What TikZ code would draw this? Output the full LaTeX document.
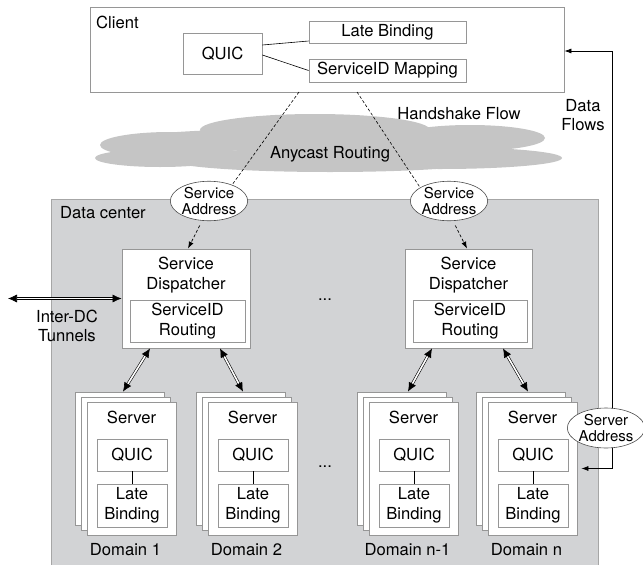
\documentclass[tikz,border=0pt]{standalone}
\usepackage{fontspec}
\setmainfont{TeX Gyre Heros}
\usetikzlibrary{arrows.meta,shapes.geometric}
\definecolor{dcgray}{RGB}{210,211,213}
\definecolor{cloudgray}{RGB}{197,197,197}
\definecolor{boxline}{RGB}{150,150,150}
\begin{document}
\begin{tikzpicture}[x=1pt,y=-1pt,font=\fontsize{16.6}{19.5}\selectfont,
  box/.style={draw=boxline,fill=white,line width=0.8pt,inner sep=0pt,align=center},
  ell/.style={ellipse,draw=black!70,fill=white,line width=0.6pt,minimum width=77pt,minimum height=39pt,inner sep=0pt,align=center,font=\fontsize{15}{16.5}\selectfont},
  lbl/.style={inner sep=0pt,align=center},
  dbl/.style={draw=black,double=white,double distance=1.6pt,line width=0.6pt,{Latex[length=9pt,width=8pt]}-{Latex[length=9pt,width=8pt]}},
  dsh/.style={line width=0.6pt,dash pattern=on 3pt off 2pt},
  arr/.style={line width=0.7pt,-{Latex[length=7pt,width=5pt]}}]
\useasboundingbox (0,0) rectangle (643,565);
% data center
\node[draw=black!35,fill=dcgray,line width=0.6pt,minimum width=547pt,minimum height=368pt,inner sep=0pt] (dc) at (324.5,383) {};
\node[lbl,anchor=west] (dclbl) at (60,213) {Data center};
% cloud
\begin{scope}[fill=cloudgray]
\fill (170,145) ellipse [x radius=70, y radius=13];
\fill (315,130) ellipse [x radius=115, y radius=16];
\fill (470,138) ellipse [x radius=75, y radius=13];
\fill (330,140) ellipse [x radius=205, y radius=12];
\fill (440,158) ellipse [x radius=122, y radius=11];
\fill (330,160) ellipse [x radius=160, y radius=12];
\fill (160,158) ellipse [x radius=65, y radius=9];
\end{scope}
\node[lbl] (any) at (330,154) {Anycast Routing};
\node[lbl] (hs) at (459,114) {Handshake Flow};
\node[lbl] (df) at (583,115) {Data\\Flows};
% client
\node[box,minimum width=474pt,minimum height=85pt] (client) at (327,49.5) {};
\node[lbl,anchor=west] (clbl) at (96,22) {Client};
\node[box,minimum width=79pt,minimum height=41pt] (cq) at (222.5,53.5) {QUIC};
\node[box,minimum width=157pt,minimum height=22pt] (clb) at (387.5,32) {Late Binding};
\node[box,minimum width=157pt,minimum height=23pt] (csm) at (387.5,70.5) {ServiceID Mapping};
\draw[line width=0.6pt] ([yshift=8.5pt]cq.east) -- ([yshift=-9pt]clb.west);
\draw[line width=0.6pt] ([yshift=-1.5pt]cq.east) -- (csm.west);
% service address ellipses
\node[ell] (sa1) at (209,201) {Service\\Address};
\node[ell] (sa2) at (449,201) {Service\\Address};
\coordinate (h1) at (299,92);
\coordinate (h2) at (357,92);
\draw[dsh] (h1) -- (sa1.35);
\draw[dsh] (h2) -- (sa2.155);
% dispatchers
\node[box,minimum width=128pt,minimum height=99pt] (d1) at (186,298.5) {};
\node[lbl] (d1t) at (186,275) {Service\\Dispatcher};
\node[box,minimum width=115pt,minimum height=42pt] (d1r) at (187.5,321) {ServiceID\\Routing};
\node[box,minimum width=127pt,minimum height=99pt] (d2) at (468.5,298.5) {};
\node[lbl] (d2t) at (468.5,275) {Service\\Dispatcher};
\node[box,minimum width=114pt,minimum height=42pt] (d2r) at (470,321) {ServiceID\\Routing};
\draw[dsh,arr,shorten <=5pt] ([xshift=-7pt]sa1.south) -- ([xshift=2pt]d1.north);
\draw[dsh,arr,shorten <=5pt] ([xshift=4pt]sa2.south) -- ([xshift=-1.5pt]d2.north);
\node[lbl] (dots1) at (325,300) {...};
\node[lbl] (dots2) at (325,467) {...};
% inter-DC
\coordinate (idc) at (8,298.5);
\draw[dbl] (idc) -- (d1.west);
\node[lbl] (idcl) at (67,326) {Inter-DC\\Tunnels};
% servers
\foreach \n/\cx/\lab in {1/131.5/Domain 1,2/252.5/Domain 2,3/413.5/Domain n-1,4/532.5/Domain n}{
  \node[box,minimum width=89pt,minimum height=133pt] (s\n-c) at (\cx-12,458.5) {};
  \node[box,minimum width=89pt,minimum height=133pt] (s\n-b) at (\cx-6,463.5) {};
  \node[box,minimum width=89pt,minimum height=133pt] (s\n) at (\cx,468.5) {};
  \node[lbl] (s\n-t) at (\cx,417) {Server};
  \node[box,minimum width=70pt,minimum height=32pt] (s\n-q) at (\cx+0.5,455) {QUIC};
  \node[box,minimum width=70pt,minimum height=43pt] (s\n-l) at (\cx+0.5,505.5) {Late\\Binding};
  \draw[line width=0.6pt] (s\n-q) -- (s\n-l);
  \node[lbl] (s\n-d) at (\cx-6,550) {\lab};
}
\draw[dbl] ([xshift=-36pt]d1.south) -- ([xshift=3.5pt]s1-c.north);
\draw[dbl] ([xshift=34pt]d1.south) -- ([xshift=2.5pt]s2-c.north);
\draw[dbl] ([xshift=-36.5pt]d2.south) -- ([xshift=6.5pt]s3-c.north);
\draw[dbl] ([xshift=34.5pt]d2.south) -- ([xshift=7.5pt]s4-c.north);
% data flows
\coordinate (dfc) at (612,51);
\draw[line width=0.7pt,{Latex[length=7pt,width=5pt]}-{Latex[length=7pt,width=5pt]}] ([yshift=-1.5pt]client.east) -- (dfc) |- ([xshift=4pt]s4.east);
\node[ell,minimum width=73pt,minimum height=40pt] (srva) at (606,428) {Server\\Address};
\end{tikzpicture}
\end{document}
